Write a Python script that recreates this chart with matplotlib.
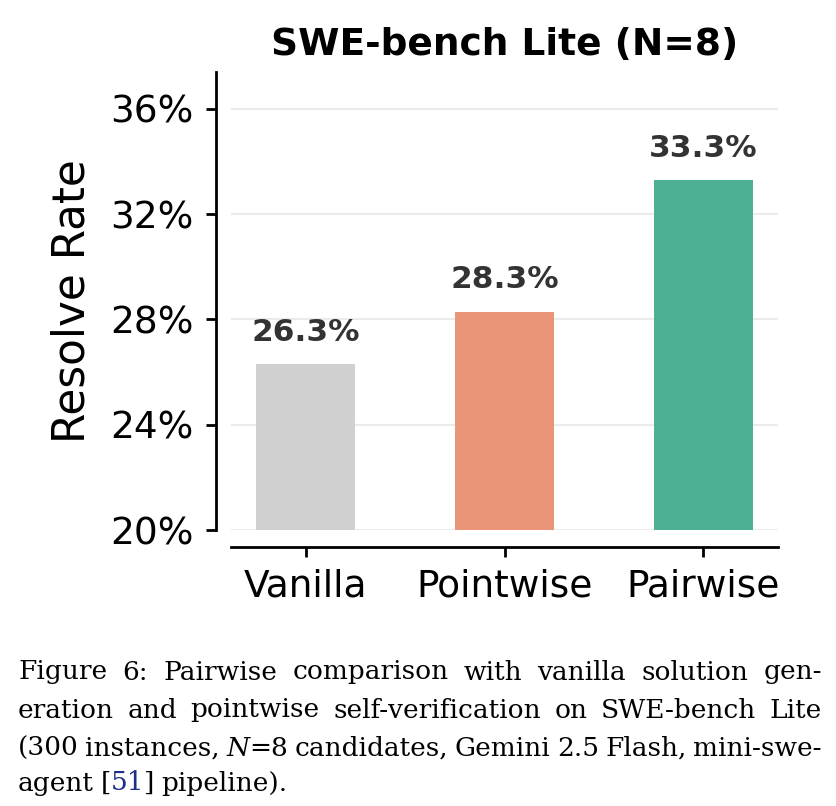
import matplotlib
matplotlib.use('Agg')
import matplotlib.pyplot as plt

# Data
methods = ['Vanilla', 'Pointwise', 'Pairwise']
resolve_rates = [26.3, 28.3, 33.3]
bar_colors = ['#d0d0d0', '#e99476', '#4daf93']
yticks = [20, 24, 28, 32, 36]

caption_lines = [
    ('Figure 6:  Pairwise comparison with vanilla solution gen-', True),
    ('eration and pointwise self-verification on SWE-bench Lite', True),
    ('(300 instances, N=8 candidates, Gemini 2.5 Flash, mini-swe-', True),
    ('agent [51] pipeline).', False),
]

fig = plt.figure(figsize=(8.37, 8.06), dpi=100)
ax = fig.add_axes([0.276, 0.3424, 0.6535, 0.5683])

ax.bar(methods, resolve_rates, width=0.5, color=bar_colors, zorder=3)
ax.set_ylim(20, 37.4)
ax.set_yticks(yticks)
ax.set_yticklabels([f'{t}%' for t in yticks])
ax.yaxis.grid(True, color='#ebebeb', linewidth=1.5, zorder=0)
ax.set_axisbelow(True)

for i, v in enumerate(resolve_rates):
    ax.text(i, v + 0.65, f'{v:.1f}%', ha='center', va='bottom',
            fontsize=22.5, fontweight='bold', color='#333333')

ax.set_ylabel('Resolve Rate', fontsize=31.5, labelpad=12)
ax.set_title('SWE-bench Lite (N=8)', fontsize=27, fontweight='bold', pad=12)
ax.tick_params(axis='both', labelsize=27, width=2, length=7, color='black')
ax.tick_params(axis='y', pad=9)
ax.tick_params(axis='x', pad=9)

for s in ['top', 'right']:
    ax.spines[s].set_visible(False)
ax.spines['left'].set_position(('outward', 11))
ax.spines['bottom'].set_position(('outward', 12))
ax.spines['left'].set_linewidth(2)
ax.spines['bottom'].set_linewidth(2)

# Caption, justified line by line
cap_font = dict(family='DejaVu Serif', fontsize=19)
left_px, right_px = 18, 822
W, H = 837, 806
line_y = [672, 710, 748, 783]
fig.canvas.draw()
renderer = fig.canvas.get_renderer()


def pieces(word):
    # split a word into (text, color, style) pieces
    if word == '[51]':
        return [('[', 'black', 'normal'), ('51', '#1f2e8a', 'normal'), (']', 'black', 'normal')]
    if word == 'N=8':
        return [('N', 'black', 'italic'), ('=8', 'black', 'normal')]
    return [(word, 'black', 'normal')]


for (line, justify), y in zip(caption_lines, line_y):
    words = [w for w in line.split(' ') if w != '']
    groups = []
    for w in words:
        g = []
        for txt, col, sty in pieces(w):
            t = fig.text(0, 1 - y / H, txt, va='center', color=col, style=sty, **cap_font)
            g.append((t, t.get_window_extent(renderer).width))
        groups.append(g)
    total = sum(wd for g in groups for _, wd in g)
    gap = (right_px - left_px - total) / (len(words) - 1) if justify else 6.5
    x = left_px
    for g in groups:
        for t, wd in g:
            t.set_x(x / W)
            x += wd
        x += gap

fig.savefig('out.png', dpi=100)
